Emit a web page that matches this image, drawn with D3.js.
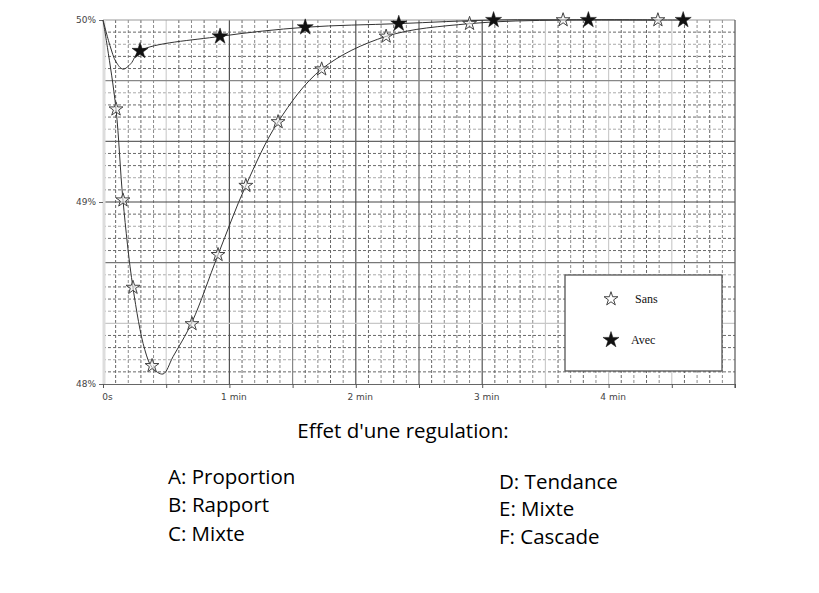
<!DOCTYPE html>
<html>
<head>
<meta charset="utf-8">
<script src="https://cdn.jsdelivr.net/npm/d3@7"></script>
<style>
  html, body { margin: 0; padding: 0; background: #fff; }
  svg { display: block; }
</style>
</head>
<body>
<svg id="chart" width="819" height="593"></svg>
<script>
// ---- data (time in minutes, value in %) ----
const yTicks = [48, 49, 50];
const xTickLabels = ["0s", "1 min", "2 min", "3 min", "4 min"];
const xTickTimes = [0, 1, 2, 3, 4];

const sansCurveT = [0, 0.035, 0.103, 0.158, 0.237, 0.33, 0.39, 0.475, 0.554, 0.704, 0.91, 1.13, 1.385, 1.73, 2.24, 2.90, 3.64, 4.39];
const sansCurveV = [50, 49.85, 49.51, 49.01, 48.53, 48.19, 48.09, 48.055, 48.15, 48.34, 48.71, 49.09, 49.44, 49.73, 49.91, 49.98, 50.0, 50.0];

const sansMarkT = [0.103, 0.158, 0.237, 0.388, 0.704, 0.91, 1.13, 1.385, 1.73, 2.24, 2.90, 3.64, 4.39];
const sansMarkV = [49.51, 49.01, 48.53, 48.10, 48.33, 48.71, 49.09, 49.44, 49.73, 49.91, 49.98, 50.0, 50.0];

const avecCurveT = [0, 0.055, 0.103, 0.158, 0.22, 0.293, 0.926, 1.6, 2.34, 3.09, 3.84, 4.59];
const avecCurveV = [50, 49.86, 49.77, 49.73, 49.76, 49.83, 49.91, 49.96, 49.98, 50.0, 50.0, 50.0];

const avecMarkT = [0.293, 0.926, 1.6, 2.34, 3.09, 3.84, 4.59];
const avecMarkV = [49.83, 49.91, 49.96, 49.98, 50.0, 50.0, 50.0];

const legendLabels = ["Sans", "Avec"];
const titleText = "Effet d'une regulation:";
const leftList = ["A: Proportion", "B: Rapport", "C: Mixte"];
const rightList = ["D: Tendance", "E: Mixte", "F: Cascade"];

// ---- drawing ----
const svg = d3.select("#chart");
const x = d3.scaleLinear().domain([0, 5]).range([103, 735]);
const y = d3.scaleLinear().domain([48, 50]).range([384, 20]);

const grid = svg.append("g");
// minor dashed grid
const minorX = d3.range(1, 50).map(i => i / 10).filter(t => Math.abs(t * 2 - Math.round(t * 2)) > 1e-6);
const minorY = d3.range(1, 30).map(i => 48 + i / 15).filter(v => Math.abs((v - 48) * 3 - Math.round((v - 48) * 3)) > 1e-6);
grid.selectAll(".mx").data(minorX).join("line")
  .attr("x1", d => x(d)).attr("x2", d => x(d)).attr("y1", y(50)).attr("y2", y(48))
  .attr("stroke", (d, i) => i % 2 ? "#8a8a8a" : "#666").attr("stroke-width", 1).attr("stroke-dasharray", "3,2");
grid.selectAll(".my").data(minorY).join("line")
  .attr("x1", x(0)).attr("x2", x(5)).attr("y1", d => y(d)).attr("y2", d => y(d))
  .attr("stroke", (d, i) => i % 3 === 1 ? "#aaa" : "#6a6a6a").attr("stroke-width", 1).attr("stroke-dasharray", "3,2");
// major lines
const majorX = d3.range(1, 10).map(i => i / 2);
const majorXColor = {0.5: "#d0d0d0", 1: "#555", 1.5: "#888", 2: "#555", 2.5: "#666", 3: "#555", 3.5: "#ccc", 4: "#ccc", 4.5: "#ccc"};
grid.selectAll(".Mx").data(majorX).join("line")
  .attr("x1", d => x(d)).attr("x2", d => x(d)).attr("y1", y(50)).attr("y2", y(48))
  .attr("stroke", d => majorXColor[d]).attr("stroke-width", 1.2);
const majorY = d3.range(1, 6).map(i => 48 + i / 3);
const majorYColor = ["#c8c8c8", "#777", "#444", "#666", "#888"];
grid.selectAll(".My").data(majorY).join("line")
  .attr("x1", x(0)).attr("x2", x(5)).attr("y1", d => y(d)).attr("y2", d => y(d))
  .attr("stroke", (d, i) => majorYColor[i]).attr("stroke-width", 1.2);
// borders
grid.append("line").attr("x1", x(0)).attr("x2", x(5)).attr("y1", y(50)).attr("y2", y(50)).attr("stroke", "#999");
grid.append("line").attr("x1", x(5)).attr("x2", x(5)).attr("y1", y(50)).attr("y2", y(48) + 4).attr("stroke", "#555").attr("stroke-width", 1.2);
grid.append("line").attr("x1", x(0) + 1).attr("x2", x(0) + 1).attr("y1", y(50)).attr("y2", y(48)).attr("stroke", "#ddd").attr("stroke-width", 3);

// axes
const xAxis = d3.axisBottom(x).tickValues(d3.range(0, 5.01, 0.5)).tickSize(4)
  .tickFormat(d => { const k = xTickTimes.indexOf(d); return k >= 0 ? xTickLabels[k] : ""; });
const gx = svg.append("g").attr("transform", `translate(0,${y(48)})`).call(xAxis);
gx.select(".domain").attr("stroke", "#666");
gx.selectAll(".tick line").attr("stroke", "#555");
gx.selectAll(".tick text").attr("fill", "#444").attr("font-family", "DejaVu Sans, sans-serif").attr("font-size", 9)
  .attr("dx", 4).attr("y", 10).attr("dy", "0.71em");

const yAxis = d3.axisLeft(y).tickValues(yTicks).tickSize(4).tickFormat(d => d + "%");
const gy = svg.append("g").attr("transform", `translate(${x(0)},0)`).call(yAxis);
gy.select(".domain").remove();
gy.selectAll(".tick line").attr("stroke", "#666");
gy.selectAll(".tick text").attr("fill", "#444").attr("font-family", "DejaVu Sans, sans-serif").attr("font-size", 9).attr("dx", 0);

// curves
const line = d3.line().x(d => x(d[0])).y(d => y(d[1])).curve(d3.curveCatmullRom.alpha(0.5));
svg.append("path").datum(d3.zip(sansCurveT, sansCurveV)).attr("d", line)
  .attr("fill", "none").attr("stroke", "#333").attr("stroke-width", 1);
svg.append("path").datum(d3.zip(avecCurveT, avecCurveV)).attr("d", line)
  .attr("fill", "none").attr("stroke", "#333").attr("stroke-width", 1);

// markers
const hollow = d3.symbol().type(d3.symbolStar).size(60);
const filled = d3.symbol().type(d3.symbolStar).size(80);
svg.selectAll(".sans").data(d3.zip(sansMarkT, sansMarkV)).join("path")
  .attr("d", hollow).attr("transform", d => `translate(${x(d[0])},${y(d[1])})`)
  .attr("fill", "#f2f2f2").attr("fill-opacity", 0.6).attr("stroke", "#444").attr("stroke-width", 1);
svg.selectAll(".avec").data(d3.zip(avecMarkT, avecMarkV)).join("path")
  .attr("d", filled).attr("transform", d => `translate(${x(d[0])},${y(d[1])})`)
  .attr("fill", "#111").attr("stroke", "#111").attr("stroke-width", 0.5);

// legend
const lg = svg.append("g");
lg.append("rect").attr("x", 565).attr("y", 275).attr("width", 157).attr("height", 96)
  .attr("fill", "#fff").attr("stroke", "#555").attr("stroke-width", 1.3);
lg.append("path").attr("d", hollow).attr("transform", "translate(611,299)")
  .attr("fill", "#fff").attr("stroke", "#444").attr("stroke-width", 1);
lg.append("path").attr("d", filled).attr("transform", "translate(611,340)")
  .attr("fill", "#111").attr("stroke", "#111").attr("stroke-width", 0.5);
lg.append("text").attr("x", 635).attr("y", 303).text(legendLabels[0])
  .attr("font-family", "Liberation Serif, serif").attr("font-size", 12).attr("fill", "#111");
lg.append("text").attr("x", 631).attr("y", 344).text(legendLabels[1])
  .attr("font-family", "Liberation Serif, serif").attr("font-size", 12).attr("fill", "#111");

// text below
const font = "Open Sans, sans-serif";
svg.append("text").attr("x", 403).attr("y", 438).attr("text-anchor", "middle").text(titleText)
  .attr("font-family", font).attr("font-size", 20.5).attr("fill", "#000");
const leftY = [484, 512, 541];
const rightY = [489, 516, 544];
svg.selectAll(".ll").data(leftList).join("text").attr("x", 168).attr("y", (d, i) => leftY[i]).text(d => d)
  .attr("font-family", font).attr("font-size", 20.5).attr("fill", "#000");
svg.selectAll(".rl").data(rightList).join("text").attr("x", 499).attr("y", (d, i) => rightY[i]).text(d => d)
  .attr("font-family", font).attr("font-size", 20.5).attr("fill", "#000");
</script>
</body>
</html>
